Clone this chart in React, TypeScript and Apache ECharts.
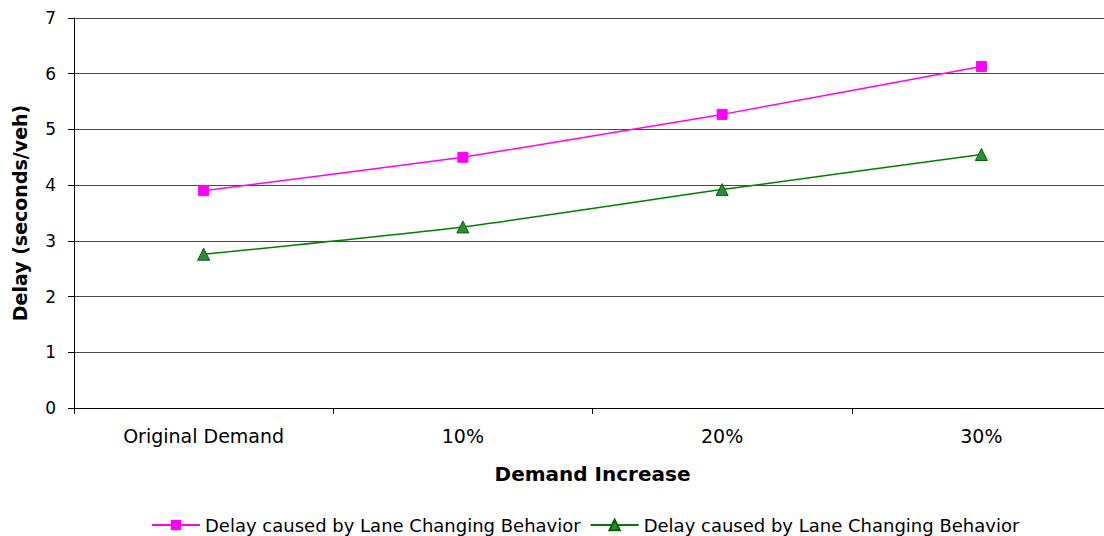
import React, { useEffect, useRef } from "react";
import * as echarts from "echarts";

const categories = ["Original Demand", "10%", "20%", "30%"];
const pinkSeries = [3.9, 4.5, 5.27, 6.13];
const greenSeries = [2.76, 3.25, 3.92, 4.55];
const seriesNames = ["Delay caused by Lane Changing Behavior", "Delay caused by Lane Changing Behavior "];

export default function App() {
  const ref = useRef<HTMLDivElement>(null);
  useEffect(() => {
    if (!ref.current) return;
    const chart = echarts.init(ref.current, null, { renderer: "svg" });
    const font = "DejaVu Sans, sans-serif";
    chart.setOption({
      animation: false,
      textStyle: { fontFamily: font },
      grid: { left: 74, top: 18, right: 0, bottom: 128, containLabel: false },
      legend: {
        left: 146,
        top: 511,
        itemWidth: 48,
        itemHeight: 13,
        itemGap: 9,
        textStyle: { fontSize: 18, color: "#000", fontFamily: font },
        data: [seriesNames[0], seriesNames[1]],
      },
      xAxis: {
        type: "category",
        data: categories,
        boundaryGap: true,
        name: "Demand Increase",
        nameLocation: "middle",
        nameGap: 56,
        nameTextStyle: { fontSize: 20, fontWeight: "bold", color: "#000", fontFamily: font },
        axisLine: { lineStyle: { color: "#000", width: 1 } },
        axisTick: { show: true, inside: false, length: 6, lineStyle: { color: "#000" } },
        axisLabel: { fontSize: 19, color: "#000", margin: 18, fontFamily: font },
      },
      yAxis: {
        type: "value",
        min: 0,
        max: 7,
        interval: 1,
        name: "Delay (seconds/veh)",
        nameLocation: "middle",
        nameGap: 45,
        nameTextStyle: { fontSize: 19, fontWeight: "bold", color: "#000", fontFamily: font },
        axisLine: { show: true, lineStyle: { color: "#000", width: 1 } },
        axisTick: { show: true, length: 6, lineStyle: { color: "#000" } },
        axisLabel: { fontSize: 17, color: "#000", margin: 18, fontFamily: font },
        splitLine: { show: true, lineStyle: { color: "#4a4a4a", width: 1 } },
      },
      series: [
        {
          name: seriesNames[0],
          type: "line",
          data: pinkSeries,
          smooth: 0.1,
          symbol: "rect",
          symbolSize: 10,
          lineStyle: { color: "#FF00FF", width: 1.5 },
          itemStyle: { color: "#FF00FF", borderColor: "#FF00FF" },
        },
        {
          name: seriesNames[1],
          type: "line",
          data: greenSeries,
          smooth: 0.2,
          symbol: "triangle",
          symbolSize: 12,
          lineStyle: { color: "#008000", width: 1.5 },
          itemStyle: { color: "#2E8B3E", borderColor: "#006400", borderWidth: 1 },
        },
      ],
    });
    return () => chart.dispose();
  }, []);
  return (
    <div style={{ position: "fixed", left: 0, top: 0, width: 1104, height: 536, overflow: "hidden", background: "#fff" }}>
      <div ref={ref} style={{ width: 1111, height: 536 }} />
    </div>
  );
}
